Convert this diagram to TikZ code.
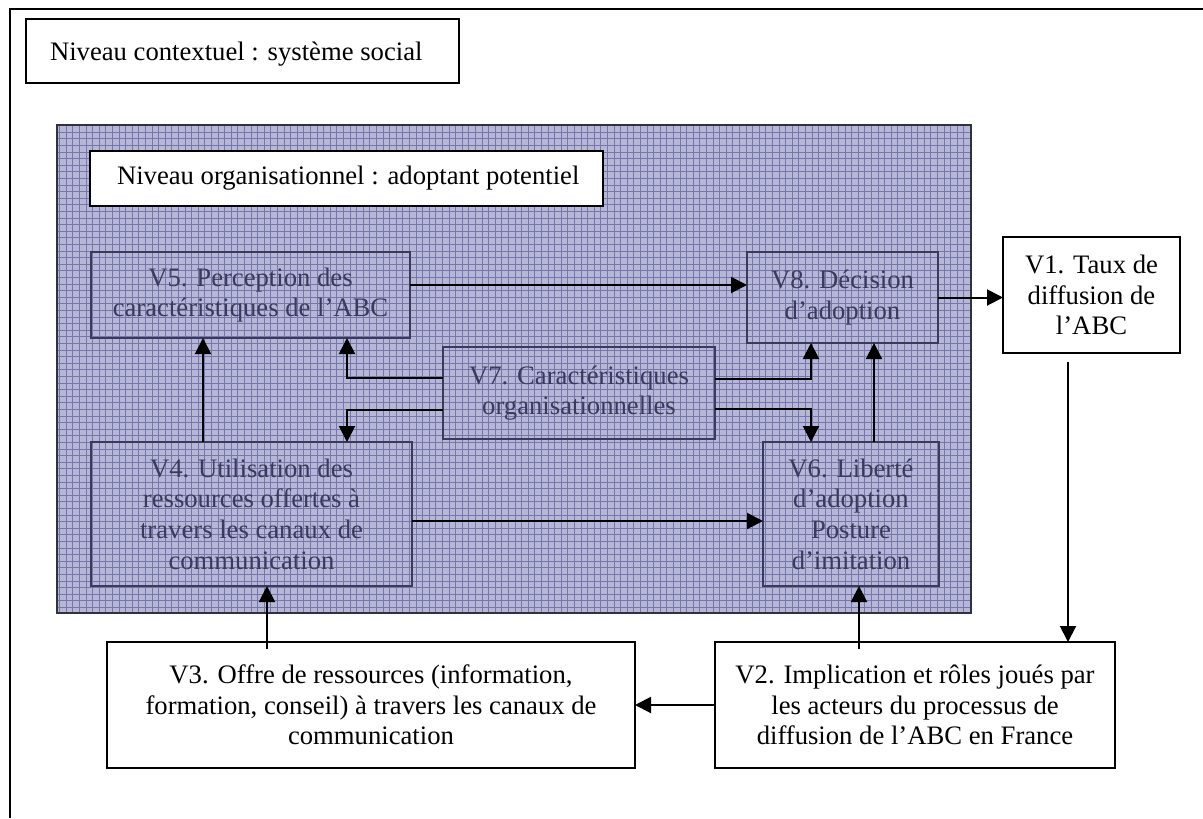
\documentclass[tikz,border=0pt]{standalone}
\usepackage{fontspec}
\setmainfont{Liberation Serif}
\usetikzlibrary{arrows.meta,calc}
\definecolor{gridbg}{RGB}{182,182,214}
\definecolor{gridln}{RGB}{118,118,172}
\definecolor{innerc}{RGB}{58,58,92}
\definecolor{framec}{RGB}{50,50,60}
\begin{document}
\begin{tikzpicture}[x=0.75pt,y=-0.75pt,
  every node/.style={inner sep=0pt,outer sep=0pt,font=\fontsize{20}{23}\selectfont},
  whitebox/.style={draw=black,fill=white,line width=1.5pt},
  innerbox/.style={draw=innerc,text=innerc,line width=1.5pt,align=center},
  arr/.style={line width=1.5pt,-{Triangle[length=12pt,width=12pt]}},
  plainline/.style={line width=1.5pt}]
\useasboundingbox (0,0) rectangle (1203,818);
\fill[white] (0,0) rectangle (1203,818);
% outer frame (contextual level)
\coordinate (fTL) at (10,9);
\draw[plainline] (1203,9) -- (fTL) -- (10,818);
% organisational zone
\node[draw=framec,fill=gridbg,line width=1.5pt,minimum width=685.5pt,minimum height=366pt] (orgzone) at (514,369) {};
\draw[gridln,line width=0.4pt,step=4.95pt] (orgzone.north west) grid (orgzone.south east);
\draw[framec,line width=1.5pt] (orgzone.north west) rectangle (orgzone.south east);
% title boxes
\node[whitebox,minimum width=324.75pt,minimum height=48pt] (ctxbox) at (242.5,51) {};
\node[anchor=west] (ctxlabel) at ($(ctxbox.west)+(24,3)$) {Niveau contextuel : système social};
\node[whitebox,minimum width=384.75pt,minimum height=41.25pt] (orgbox) at (346.5,178.5) {};
\node[anchor=west] (orglabel) at ($(orgbox.west)+(27,0)$) {Niveau organisationnel : adoptant potentiel};
% variables
\node[innerbox,minimum width=239.25pt,minimum height=64.5pt] (V5) at (250.5,295) {V5. Perception des\\caractéristiques de l’ABC};
\node[innerbox,minimum width=143.25pt,minimum height=68.25pt] (V8) at (842.5,297.5) {V8. Décision\\d’adoption};
\node[whitebox,align=center,minimum width=132.75pt,minimum height=87pt] (V1) at (1091.5,295) {V1. Taux de\\diffusion de\\l’ABC};
\node[innerbox,minimum width=204pt,minimum height=69pt] (V7) at (579,393) {V7. Caractéristiques\\organisationnelles};
\node[innerbox,minimum width=240.75pt,minimum height=108pt] (V4) at (251.5,514) {V4. Utilisation des\\ressources offertes à\\travers les canaux de\\communication};
\node[innerbox,minimum width=132pt,minimum height=108pt] (V6) at (851,514) {V6. Liberté\\d’adoption\\Posture\\d’imitation};
\node[whitebox,align=center,minimum width=396pt,minimum height=94.5pt] (V3) at (371,705) {V3. Offre de ressources (information,\\formation, conseil) à travers les canaux de\\communication};
\node[whitebox,align=center,minimum width=300pt,minimum height=94.5pt] (V2) at (915,705) {V2. Implication et rôles joués par\\les acteurs du processus de\\diffusion de l’ABC en France};
% connectors
\draw[arr] ($(V5.east)+(0,-10)$) -- ($(V8.west)+(0,-12.5)$);
\draw[arr] (V8.east) -- (V8.east -| V1.west);
\coordinate (v1s) at ($(V1.south)+(-23.5,9)$);
\draw[arr] (v1s) -- (v1s |- V2.north);
\draw[arr] (V2.west) -- (V3.east);
\coordinate (v3n) at ($(V3.north)+(-104,7)$);
\draw[arr] (v3n) -- (v3n |- V4.south);
\coordinate (v2n) at ($(V2.north)+(-56,7)$);
\draw[arr] (v2n) -- (v2n |- V6.south);
\draw[arr] ($(V4.east)+(0,7)$) -- ($(V6.west)+(0,7)$);
\coordinate (v4n) at ($(V4.north)+(-48.5,0)$);
\draw[arr] (v4n) -- (v4n |- V5.south);
\coordinate (v7wa) at ($(V7.west)+(0,-15)$);
\coordinate (v7wb) at ($(V7.west)+(0,17)$);
\coordinate (v7ea) at ($(V7.east)+(0,-14)$);
\coordinate (v7eb) at ($(V7.east)+(0,16)$);
\draw[arr] (v7wa) -| ($(V5.south)+(96.5,0)$);
\draw[arr] (v7wb) -| ($(V4.north)+(95.5,0)$);
\draw[arr] (v7ea) -| ($(V8.south)+(-31.5,0)$);
\draw[arr] (v7eb) -| ($(V6.north)+(-40,0)$);
\coordinate (v6n) at ($(V6.north)+(23,0)$);
\draw[arr] (v6n) -- (v6n |- V8.south);
\end{tikzpicture}
\end{document}
